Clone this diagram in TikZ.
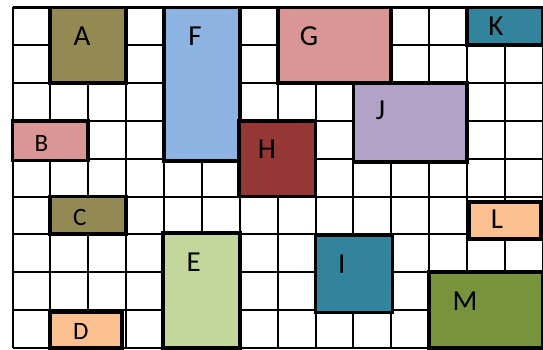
\documentclass[tikz,border=0pt]{standalone}
\usepackage{fontspec}
\setmainfont{Carlito}
\definecolor{olive}{HTML}{938953}
\definecolor{skyb}{HTML}{8DB3E2}
\definecolor{rose}{HTML}{D99694}
\definecolor{teal2}{HTML}{31849B}
\definecolor{lilac}{HTML}{B2A2C7}
\definecolor{brick}{HTML}{953735}
\definecolor{peach}{HTML}{FAC090}
\definecolor{lime}{HTML}{C3D69B}
\definecolor{moss}{HTML}{77933C}
\tikzset{
  gridline/.style={line width=2pt, black},
  blockbox/.style={draw=black, line width=3.8pt},
  biglabel/.style={font=\fontsize{29}{30}\selectfont, inner sep=0pt, text height=18.3pt, text depth=0pt, anchor=center},
  smalllabel/.style={font=\fontsize{25}{26}\selectfont, inner sep=0pt, text height=15.8pt, text depth=0pt, anchor=center}
}
\begin{document}
\begin{tikzpicture}[x=1pt,y=-1pt]
\useasboundingbox[fill=white] (0,0) rectangle (543,350);
\begin{scope}[shift={(12.5,7.5)}, x=37.88pt, y=-37.8pt]
  \foreach \i in {0,...,14} \draw[gridline] (\i,0) -- (\i,9);
  \foreach \j in {0,...,9} \draw[gridline] (0,\j) -- (14,\j);
  \draw[line width=3pt] (0,0) -- (14,0);
  % blocks
  \draw[blockbox, fill=olive] (1,0) rectangle (3,2);
  \draw[blockbox, fill=skyb] (4,0) rectangle (6,4.07);
  \draw[blockbox, fill=rose] (7,0) rectangle (10,2);
  \draw[blockbox, fill=teal2] (12,0) rectangle (14,1);
  \draw[blockbox, fill=lilac] (9,2) rectangle (12,4.08);
  \draw[blockbox, fill=brick] (5.98,3) rectangle (8,5);
  \draw[blockbox, fill=rose] (0,3) rectangle (2,4.05);
  \draw[blockbox, fill=olive] (1,5) rectangle (3,6);
  \draw[blockbox, fill=peach] (12.05,5.15) rectangle (13.95,6.12);
  \draw[blockbox, fill=lime] (3.97,5.97) rectangle (6,9);
  \draw[blockbox, fill=teal2] (8,6.03) rectangle (10.03,8.07);
  \draw[blockbox, fill=moss] (11,7) rectangle (14,9);
  \draw[blockbox, fill=peach] (1,8.05) rectangle (2.89,9);
\end{scope}
\node[biglabel] (lA) at (82,36.5) {A};
\node[biglabel] (lF) at (195,36.5) {F};
\node[biglabel] (lG) at (309,36.5) {G};
\node[biglabel] (lK) at (496,26.5) {K};
\node[biglabel] (lJ) at (380.5,110) {J};
\node[biglabel] (lH) at (267,149.5) {H};
\node[smalllabel] (lB) at (41.3,143.8) {B};
\node[smalllabel] (lC) at (79.7,218) {C};
\node[biglabel] (lL) at (497,219) {L};
\node[biglabel] (lE) at (193.7,262.7) {E};
\node[biglabel] (lI) at (341.7,264) {I};
\node[biglabel] (lM) at (465,301) {M};
\node[smalllabel] (lD) at (80.8,332) {D};
\end{tikzpicture}
\end{document}
